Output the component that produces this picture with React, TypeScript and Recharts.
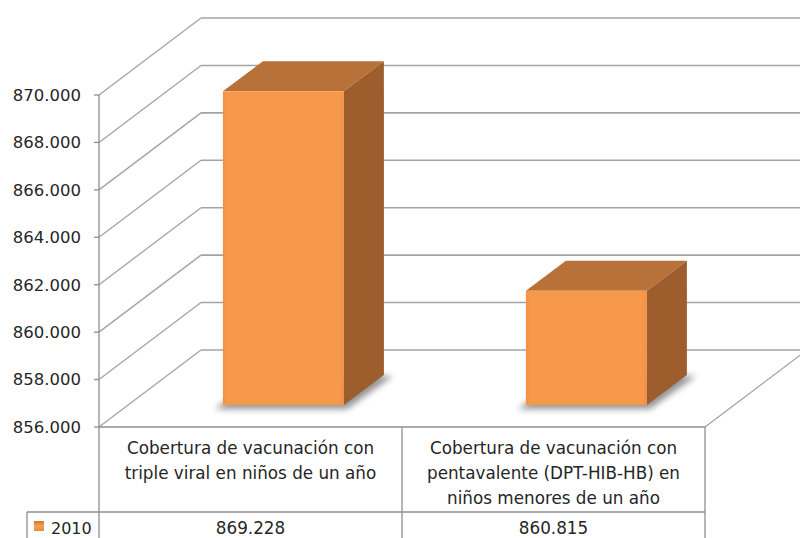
import React from 'react';
import { BarChart, Bar, XAxis, YAxis, CartesianGrid } from 'recharts';

// ---- data ----
const categories = [
  'Cobertura de vacunación con triple viral en niños de un año',
  'Cobertura de vacunación con pentavalente (DPT-HIB-HB) en niños menores de un año',
];
const categoryLines = [
  ['Cobertura de vacunación con', 'triple viral en niños de un año'],
  ['Cobertura de vacunación con', 'pentavalente (DPT-HIB-HB) en', 'niños menores de un año'],
];
const seriesName = '2010';
const values2010 = [869228, 860815];
const yTicks = [856000, 858000, 860000, 862000, 864000, 866000, 868000, 870000];

const data = categories.map((c, i) => ({ category: c, value: values2010[i] }));

// ---- layout ----
const W = 800;
const H = 538;
const PLOT_LEFT = 99;
const PLOT_TOP = 95;
const PLOT_RIGHT = 705;
const PLOT_BOTTOM = 427;
const BACK_DX = 102;
const BACK_DY = -77;
const BAR_DX0 = 33;
const BAR_DY0 = -22;
const BAR_DEPTH_DX = 40;
const BAR_DEPTH_DY = -30;
const FONT = '"DejaVu Sans", Verdana, sans-serif';
const GRID = '#a3a3a3';
const LINE = '#8f8f8f';

const fmt = (v: number) => (v / 1000).toFixed(3);

const gridLine = (p: any) => {
  const { x1, y1, x2 } = p;
  const bx = x1 + BACK_DX;
  const by = y1 + BACK_DY;
  const isFloor = Math.abs(y1 - PLOT_BOTTOM) < 1;
  return (
    <g key={`g-${y1}`}>
      <line x1={x1} y1={y1} x2={bx} y2={by} stroke={GRID} strokeWidth={1.3} />
      <line x1={bx} y1={by} x2={x2 + BACK_DX} y2={by} stroke={GRID} strokeWidth={1.6} />
      {isFloor && <line x1={x2} y1={y1} x2={x2 + BACK_DX} y2={by} stroke={GRID} strokeWidth={1.3} />}
    </g>
  );
};

const Bar3D = (props: any) => {
  const { x, y, width, height, index } = props;
  const fx = x + BAR_DX0;
  const fy = y + BAR_DY0;
  const fb = y + height + BAR_DY0;
  const w = width;
  const dx = BAR_DEPTH_DX;
  const dy = BAR_DEPTH_DY;
  const fid = `bshadow-${index}`;
  const gid = `bfront-${index}`;
  const shadow = [
    [fx - 8, fb + 4],
    [fx + w + 3, fb + 4],
    [fx + w + dx + 9, fb + dy + 1],
    [fx + dx, fb + dy],
  ]
    .map((p) => p.join(','))
    .join(' ');
  return (
    <g>
      <defs>
        <filter id={fid} x="-20%" y="-50%" width="140%" height="200%">
          <feGaussianBlur stdDeviation={3} />
        </filter>
        <linearGradient id={gid} x1="0" y1="0" x2="1" y2="0">
          <stop offset="0" stopColor="#f3904a" />
          <stop offset="0.04" stopColor="#f8984b" />
          <stop offset="0.96" stopColor="#f8984b" />
          <stop offset="1" stopColor="#f0904a" />
        </linearGradient>
      </defs>
      <polygon points={shadow} fill="#666" opacity={0.7} filter={`url(#${fid})`} />
      <polygon
        points={`${fx},${fy} ${fx + w},${fy} ${fx + w + dx},${fy + dy} ${fx + dx},${fy + dy}`}
        fill="#b9713a"
      />
      <polygon
        points={`${fx + w},${fy} ${fx + w + dx},${fy + dy} ${fx + w + dx},${fb + dy} ${fx + w},${fb}`}
        fill="#9d5d2c"
      />
      <rect x={fx} y={fy} width={w} height={fb - fy} fill={`url(#${gid})`} />
    </g>
  );
};

const TableTick = (props: any) => {
  const { x, index } = props;
  const half = (PLOT_RIGHT - PLOT_LEFT) / categories.length / 2;
  const top = PLOT_BOTTOM;
  const lines = categoryLines[index] || [];
  return (
    <g>
      {index === 0 && (
        <g>
          <line x1={x - half} y1={top} x2={x - half} y2={H} stroke={LINE} strokeWidth={1.3} />
          <line x1={27} y1={512} x2={x - half} y2={512} stroke={LINE} strokeWidth={1.3} />
          <line x1={27} y1={512} x2={27} y2={H} stroke={LINE} strokeWidth={1.3} />
          <defs>
            <linearGradient id="legkey" x1="0" y1="0" x2="0" y2="1">
              <stop offset="0" stopColor="#c8783a" />
              <stop offset="0.5" stopColor="#f7a050" />
              <stop offset="1" stopColor="#e58a3c" />
            </linearGradient>
          </defs>
          <rect x={34} y={521} width={10} height={10} fill="url(#legkey)" />
          <text x={51} y={534} fontFamily={FONT} fontSize={16} fill="#262626">
            {seriesName}
          </text>
        </g>
      )}
      <line x1={x + half} y1={top} x2={x + half} y2={H} stroke={LINE} strokeWidth={1.3} />
      <line x1={x - half} y1={512} x2={x + half} y2={512} stroke={LINE} strokeWidth={1.3} />
      <text textAnchor="middle" fontFamily={FONT} fontSize={16.8} fill="#262626">
        {lines.map((l: string, i: number) => (
          <tspan key={i} x={x} y={top + 27 + i * 25}>
            {l}
          </tspan>
        ))}
      </text>
      <text x={x} y={534} textAnchor="middle" fontFamily={FONT} fontSize={16.8} fill="#262626">
        {fmt(values2010[index])}
      </text>
    </g>
  );
};

export default function App() {
  return (
    <div style={{ position: 'absolute', left: 0, top: 0, width: W, height: H, background: '#fff' }}>
      <BarChart
        width={W}
        height={H}
        data={data}
        margin={{ top: PLOT_TOP, right: W - PLOT_RIGHT, bottom: 0, left: 8 }}
        barCategoryGap="30%"
      >
        <CartesianGrid vertical={false} horizontal={gridLine} />
        <XAxis
          dataKey="category"
          height={H - PLOT_BOTTOM}
          tickLine={false}
          axisLine={{ stroke: LINE, strokeWidth: 1.3 }}
          tick={TableTick}
          interval={0}
        />
        <YAxis
          width={PLOT_LEFT - 8}
          domain={[856000, 870000]}
          ticks={yTicks}
          tickFormatter={fmt}
          tickSize={5}
          tickMargin={13}
          axisLine={{ stroke: LINE, strokeWidth: 1.3 }}
          tickLine={{ stroke: LINE, strokeWidth: 1.3 }}
          tick={{ fontFamily: FONT, fontSize: 16.5, fill: '#262626' }}
        />
        <Bar dataKey="value" name={seriesName} shape={Bar3D} isAnimationActive={false} />
      </BarChart>
    </div>
  );
}
